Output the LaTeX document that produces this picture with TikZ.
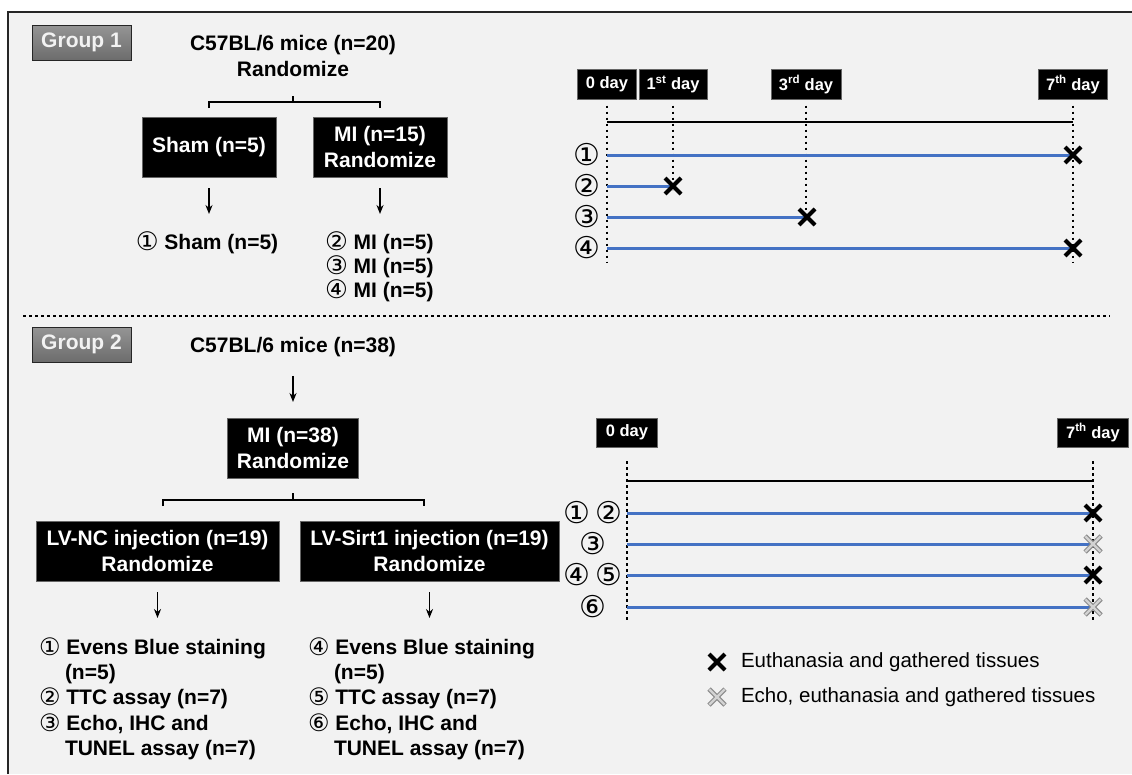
\documentclass[tikz,border=0pt]{standalone}
\usepackage{fontspec}
\setmainfont{Liberation Sans}
\newfontfamily\cfont{DejaVu Sans}
\usetikzlibrary{arrows.meta}
\definecolor{bg}{HTML}{F2F2F2}
\definecolor{framec}{HTML}{262626}
\definecolor{tlblue}{HTML}{4472C4}
\definecolor{gtop}{HTML}{959595}
\definecolor{gbot}{HTML}{6C6C6C}
\definecolor{xgray}{HTML}{D2D2D2}
\definecolor{xgrayd}{HTML}{8C8C8C}
\newcommand{\cn}[1]{\smash{\raisebox{-1pt}{\cfont\mdseries\fontsize{25.5}{25}\selectfont #1}}}
\newcommand{\cm}[1]{\smash{\raisebox{-1pt}{\cfont\mdseries\fontsize{24}{24}\selectfont #1}}}
\tikzset{
  xmarkblk/.pic={\draw[line width=4pt,black] (-8,-8)--(8,8) (-8,8)--(8,-8);},
  xmarkgry/.pic={\draw[line width=4.6pt,xgrayd] (-8,-8)--(8,8) (-8,8)--(8,-8);
                 \draw[line width=2.4pt,xgray] (-7.6,-7.6)--(7.6,7.6) (-7.6,7.6)--(7.6,-7.6);}
}
\begin{document}
\begin{tikzpicture}[x=1pt,y=-1pt,
  every node/.style={inner sep=0pt, outer sep=0pt},
  bigtxt/.style={font=\fontsize{21}{26}\selectfont\bfseries, align=center},
  listtxt/.style={font=\fontsize{21}{24}\selectfont\bfseries, align=left},
  list2txt/.style={font=\fontsize{21}{25.2}\selectfont\bfseries, align=left},
  grpbox/.style={draw=framec, line width=0.8pt, top color=gtop, bottom color=gbot, text=bg, font=\fontsize{21}{25}\selectfont\bfseries, minimum width=99pt, minimum height=35pt},
  blkbox/.style={fill=black, draw=black!60, line width=0.8pt, text=white, font=\fontsize{21}{25.5}\selectfont\bfseries, align=center, minimum height=60pt},
  daybox/.style={fill=black, draw=black!60, line width=0.6pt, text=white, font=\fontsize{16.5}{20}\selectfont\bfseries, minimum height=30pt},
  arr/.style={line width=1.8pt, -{Stealth[length=9pt,width=7pt]}},
  brk/.style={line width=2pt},
  vdot/.style={line width=2.9pt, dash pattern=on 2.9pt off 3.1pt},
  tlaxis/.style={line width=2.2pt},
  tlline/.style={line width=3pt, tlblue},
  rowlbl/.style={font=\fontsize{30}{30}\selectfont\cfont},
  legtxt/.style={font=\fontsize{20.5}{24}\selectfont, anchor=west}
]
\useasboundingbox (0,0) rectangle (1132,774);
\fill[white] (0,0) rectangle (1132,774);
\fill[bg] (8,12) rectangle (1132,774);
\draw[framec, line width=1.6pt] (8,774) -- (8,12) -- (1132,12);

% ---------------- Group 1 ----------------
\node[grpbox] (g1) at (81.5,42.5) {Group 1};
\node[bigtxt] (t1) at (293,56) {C57BL/6 mice (n=20)\\Randomize};
\node[blkbox, minimum width=134pt] (sham) at (209,147) {Sham (n=5)};
\node[blkbox, minimum width=134pt] (mi1) at (380,147) {MI (n=15)\\Randomize};
\coordinate (t1tick) at (293,96);
\draw[brk] (t1tick) -- ++(0,6);
\draw[brk] ([yshift=9pt]sham.north) -- ++(0,-6) -| ([yshift=9pt]mi1.north);
\draw[arr] ([yshift=-11pt]sham.south) -- ([yshift=-37pt]sham.south);
\draw[arr] ([yshift=-11pt]mi1.south) -- ([yshift=-37pt]mi1.south);
\node[bigtxt] (s1) at (207,244) {\cn{①} Sham (n=5)};
\node[listtxt, anchor=west] (m1) at (325,268) {\cn{②} MI (n=5)\\\cn{③} MI (n=5)\\\cn{④} MI (n=5)};

% timeline 1
\node[daybox, minimum width=59pt] (d0) at (607,84.5) {0 day};
\node[daybox, minimum width=68pt] (d1) at (673,84.5) {1\textsuperscript{st} day};
\node[daybox, minimum width=70pt] (d3) at (806,84.5) {3\textsuperscript{rd} day};
\node[daybox, minimum width=69pt] (d7) at (1073,84.5) {7\textsuperscript{th} day};
\draw[vdot] ([yshift=-6pt]d0.south) -- ++(0,157);
\draw[vdot] ([yshift=-6pt]d1.south) -- ++(0,84);
\draw[vdot] ([yshift=-6pt]d3.south) -- ++(0,114);
\draw[vdot] ([yshift=-6pt]d7.south) -- ++(0,157);
\draw[tlaxis] (607,122) -- (1073,122);
\node[rowlbl] (r1) at (587,155) {①};
\node[rowlbl] (r2) at (587,186) {②};
\node[rowlbl] (r3) at (587,217) {③};
\node[rowlbl] (r4) at (587,248) {④};
\draw[tlline] (607,155) -- (1073,155);
\draw[tlline] (607,186) -- (673,186);
\draw[tlline] (607,217) -- (807,217);
\draw[tlline] (607,248) -- (1073,248);
\pic at (1073,155) {xmarkblk};
\pic at (673,186) {xmarkblk};
\pic at (807,217) {xmarkblk};
\pic at (1073,248) {xmarkblk};

% separator
\draw[vdot] (23,316) -- (1110,316);

% ---------------- Group 2 ----------------
\node[grpbox] (g2) at (81.5,344.5) {Group 2};
\node[bigtxt] (t2) at (293,347) {C57BL/6 mice (n=38)};
\node[blkbox, minimum width=131pt] (mi2) at (293,448) {MI (n=38)\\Randomize};
\draw[arr] ([yshift=-19pt]t2.south) -- ([yshift=16pt]mi2.north);
\node[blkbox, minimum width=243pt] (nc) at (157.5,551) {LV-NC injection (n=19)\\Randomize};
\node[blkbox, minimum width=259pt] (si) at (429.5,551) {LV-Sirt1 injection (n=19)\\Randomize};
\draw[brk] ([yshift=-15pt]mi2.south) -- ++(0,7);
\draw[brk] ([xshift=5.5pt,yshift=15pt]nc.north) -- ++(0,-6) -| ([xshift=-5.5pt,yshift=15pt]si.north);
\draw[arr] ([yshift=-11pt]nc.south) -- ([yshift=-37pt]nc.south);
\draw[arr] ([yshift=-11pt]si.south) -- ([yshift=-37pt]si.south);
\node[list2txt, anchor=west] (l1) at (39,699.5) {\cm{①} Evens Blue staining\\\hspace*{26pt}(n=5)\\\cm{②} TTC assay (n=7)\\\cm{③} Echo, IHC and\\\hspace*{26pt}TUNEL assay (n=7)};
\node[list2txt, anchor=west] (l2) at (308,699.5) {\cm{④} Evens Blue staining\\\hspace*{26pt}(n=5)\\\cm{⑤} TTC assay (n=7)\\\cm{⑥} Echo, IHC and\\\hspace*{26pt}TUNEL assay (n=7)};

% timeline 2
\node[daybox, minimum width=61pt, minimum height=29pt] (e0) at (627,432.5) {0 day};
\node[daybox, minimum width=71pt, minimum height=29pt] (e7) at (1093,432.5) {7\textsuperscript{th} day};
\draw[vdot] ([yshift=-14pt]e0.south) -- ++(0,159);
\draw[vdot] ([yshift=-14pt]e7.south) -- ++(0,159);
\draw[tlaxis] (627,481) -- (1093,481);
\node[rowlbl] (q1) at (593,513) {①\,②};
\node[rowlbl] (q2) at (593,544) {③};
\node[rowlbl] (q3) at (593,575) {④\,⑤};
\node[rowlbl] (q4) at (593,607) {⑥};
\draw[tlline] (627,513) -- (1093,513);
\draw[tlline] (627,544) -- (1093,544);
\draw[tlline] (627,575) -- (1093,575);
\draw[tlline] (627,607) -- (1093,607);
\pic at (1093,513) {xmarkblk};
\pic at (1093,544) {xmarkgry};
\pic at (1093,575) {xmarkblk};
\pic at (1093,607) {xmarkgry};

% legend
\pic at (717,662) {xmarkblk};
\node[legtxt] (lg1) at (741,662) {Euthanasia and gathered tissues};
\pic at (717,697) {xmarkgry};
\node[legtxt] (lg2) at (741,697) {Echo, euthanasia and gathered tissues};
\end{tikzpicture}
\end{document}
